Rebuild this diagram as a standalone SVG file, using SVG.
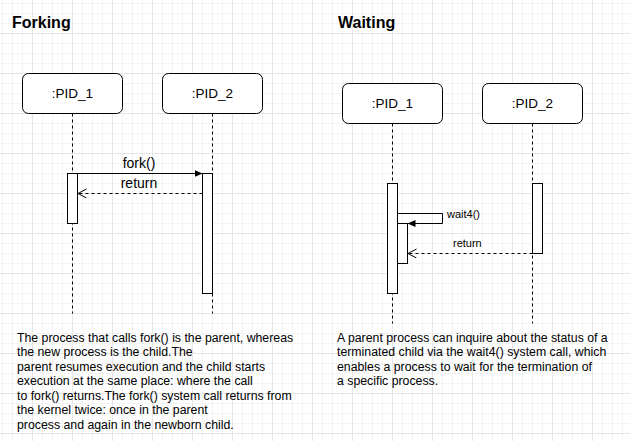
<svg xmlns="http://www.w3.org/2000/svg" width="630" height="441" viewBox="0 0 630 441">
<style>
.box{fill:#fff;stroke:#000;stroke-width:1}
.act{fill:#fff;stroke:#000;stroke-width:1}
.life{stroke:#000;stroke-width:1;stroke-dasharray:3 3;fill:none}
.msg{stroke:#000;stroke-width:1;fill:none}
.dash{stroke-dasharray:3 3}
.t{font-family:"Liberation Sans",Arial,sans-serif;fill:#000}
.title{font-size:16px;font-weight:bold}
.lbl{font-size:13.5px;text-anchor:middle}
.m14{font-size:14px;text-anchor:middle}
.m11{font-size:11px}
.body{font-size:12.3px}
</style>
<defs>
<pattern id="grid" patternUnits="userSpaceOnUse" x="32" y="33" width="40" height="40">
<path d="M10.5,0V40M20.5,0V40M30.5,0V40M0,10.5H40M0,20.5H40M0,30.5H40" stroke="#f3f3f3" stroke-width="1" fill="none"/>
<path d="M0.5,0V40M0,0.5H40" stroke="#e6e6e6" stroke-width="1" fill="none"/>
</pattern>
<marker id="block" markerUnits="userSpaceOnUse" markerWidth="9" markerHeight="8" refX="8" refY="3.5" orient="auto">
<path d="M0,0L8,3.5L0,7Z" fill="#000"/>
</marker>
<marker id="open" markerUnits="userSpaceOnUse" markerWidth="10" markerHeight="10" refX="8.5" refY="4.5" orient="auto">
<path d="M0,0L8.5,4.5L0,9" fill="none" stroke="#000" stroke-width="1"/>
</marker>
</defs>
<rect width="630" height="441" fill="#fff"/>
<rect width="630" height="441" fill="url(#grid)"/>

<text class="t title" x="12" y="28">Forking</text>
<text class="t title" x="338" y="28">Waiting</text>

<g id="lifelines">
<path class="life" d="M72.5,113.5V313.5M212.5,113.5V313.5M392.5,123.5V323.5M532.5,123.5V323.5"/>
</g>

<g id="f_pid1"><rect class="box" x="22.5" y="73.5" width="100" height="40" rx="6"/><text class="t lbl" x="72.5" y="98">:PID_1</text></g>
<g id="f_pid2"><rect class="box" x="162.5" y="73.5" width="100" height="40" rx="6"/><text class="t lbl" x="212.5" y="98">:PID_2</text></g>
<g id="f_act1"><rect class="act" x="67.5" y="173.5" width="10" height="50"/></g>
<g id="f_act2"><rect class="act" x="202.5" y="173.5" width="10" height="120"/></g>

<g id="w_pid1"><rect class="box" x="342.5" y="83.5" width="100" height="40" rx="6"/><text class="t lbl" x="392.5" y="108">:PID_1</text></g>
<g id="w_pid2"><rect class="box" x="482.5" y="83.5" width="100" height="40" rx="6"/><text class="t lbl" x="532.5" y="108">:PID_2</text></g>
<g id="w_act1"><rect class="act" x="387.5" y="183.5" width="10" height="110"/></g>
<g id="w_act2"><rect class="act" x="532.5" y="183.5" width="10" height="70"/></g>
<g id="w_act1b"><rect class="act" x="397.5" y="223.5" width="10" height="40"/></g>

<g id="connectors">
<path class="msg" d="M77.5,173.5H202.5" marker-end="url(#block)"/>
<text class="t m14" x="139" y="168">fork()</text>
<path class="msg dash" d="M202.5,193.5H78" marker-end="url(#open)"/>
<text class="t m14" x="139" y="188">return</text>
<path class="msg" d="M397.5,213.5H442.5V223.5H407.5" marker-end="url(#block)"/>
<text class="t m11" x="447" y="218">wait4()</text>
<path class="msg dash" d="M532.5,253.5H408" marker-end="url(#open)"/>
<text class="t m11" x="453" y="247">return</text>
</g>

<g id="text_fork">
<text class="t body" x="17" y="341.5">The process that calls fork() is the parent, whereas</text>
<text class="t body" x="17" y="356">the new process is the child.The</text>
<text class="t body" x="17" y="370.5">parent resumes execution and the child starts</text>
<text class="t body" x="17" y="385">execution at the same place: where the call</text>
<text class="t body" x="17" y="399.5">to fork() returns.The fork() system call returns from</text>
<text class="t body" x="17" y="414">the kernel twice: once in the parent</text>
<text class="t body" x="17" y="428.5">process and again in the newborn child.</text>
</g>
<g id="text_wait">
<text class="t body" x="337" y="341.5">A parent process can inquire about the status of a</text>
<text class="t body" x="337" y="356">terminated child via the wait4() system call, which</text>
<text class="t body" x="337" y="370.5">enables a process to wait for the termination of</text>
<text class="t body" x="337" y="385">a specific process.</text>
</g>
</svg>
